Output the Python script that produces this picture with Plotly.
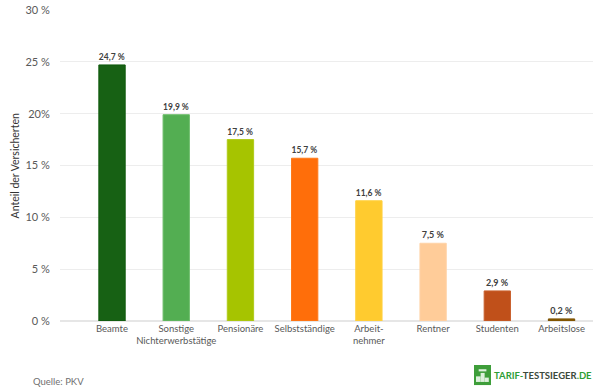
import plotly.graph_objects as go

categories = ["Beamte", "Sonstige<br>Nichterwerbstätige", "Pensionäre", "Selbstständige",
              "Arbeit-<br>nehmer", "Rentner", "Studenten", "Arbeitslose"]
values = [24.7, 19.9, 17.5, 15.7, 11.6, 7.5, 2.9, 0.2]
value_labels = ["24,7 %", "19,9 %", "17,5 %", "15,7 %", "11,6 %", "7,5 %", "2,9 %", "0,2 %"]
fill_colors = ["#176114", "#53AE52", "#A6C400", "#FF6E0A", "#FFCB2F", "#FFCC99", "#C0501A", "#8A5A00"]
line_colors = ["#0F5A0C", "#6DBD6B", "#B0CB1A", "#FF7A1A", "#FFD040", "#FFD2A6", "#C8602E", "#7A5000"]
y_ticks = [0, 5, 10, 15, 20, 25, 30]
y_tick_labels = ["0 %", "5 %", "10 %", "15 %", "20%", "25 %", "30 %"]

FONT = "Lato, Open Sans, sans-serif"
fig = go.Figure(go.Bar(
    x=categories, y=values, width=0.41,
    marker=dict(color=fill_colors, line=dict(color=line_colors, width=1)),
    text=value_labels, textposition="outside", cliponaxis=False,
    textfont=dict(family=FONT, size=9, color="#404040", weight="bold"),
    textangle=0,
))
logo_shapes = [
    dict(type="rect", xref="paper", yref="paper", x0=0.7767, x1=0.8086, y0=-0.206, y1=-0.1415,
         fillcolor="#3E9E3A", line=dict(width=0)),
]
for x0, x1, y0, y1 in [(0.7805, 0.7892, -0.196, -0.178), (0.7892, 0.7967, -0.196, -0.167),
                       (0.7967, 0.8045, -0.196, -0.182), (0.7855, 0.8, -0.162, -0.155)]:
    logo_shapes.append(dict(type="rect", xref="paper", yref="paper", x0=x0, x1=x1, y0=y0, y1=y1,
                            fillcolor="#DDF0DC", line=dict(width=0)))
fig.update_layout(
    width=600, height=392, paper_bgcolor="white", plot_bgcolor="white",
    margin=dict(l=60, r=7, t=10, b=71, autoexpand=False), showlegend=False,
    font=dict(family=FONT, color="#595959"),
    xaxis=dict(type="category", range=[-0.81, 7.49], tickfont=dict(size=9.5, color="#595959"),
               showline=False, showgrid=False, ticks="", tickangle=0, automargin=False,
               categoryorder="array", categoryarray=categories),
    yaxis=dict(range=[0, 30], tickvals=y_ticks, ticktext=y_tick_labels, automargin=False,
               tickfont=dict(size=11, color="#595959"), gridcolor="#EDEDED", gridwidth=1,
               zeroline=True, zerolinecolor="#E6E6E6", zerolinewidth=2,
               ticks="outside", ticklen=7, tickcolor="white", showline=False),
    annotations=[
        dict(text="Anteil der Versicherten", xref="paper", yref="paper", x=-0.0845, y=0.5,
             textangle=-90, xanchor="center", yanchor="middle", showarrow=False,
             font=dict(size=10.5, color="#333333")),
        dict(text="Quelle: PKV", xref="paper", yref="paper", x=-0.0545, y=-0.193, xanchor="left",
             yanchor="middle", showarrow=False, font=dict(size=9.5, color="#707070")),
        dict(text="<b><span style='color:#2E9E36'>TARIF-</span><span style='color:#3C4A3C'>TESTSIEGER</span>"
                  "<span style='color:#2E9E36'>.DE</span></b>",
             xref="paper", yref="paper", x=0.8105, y=-0.174, xanchor="left", yanchor="middle",
             showarrow=False, font=dict(size=9.5, family="Lato, sans-serif")),
    ],
    shapes=logo_shapes,
)
fig.write_html("out.html", config=dict(displayModeBar=False),
               post_script="document.body.style.margin='0';document.body.style.overflow='hidden';")
